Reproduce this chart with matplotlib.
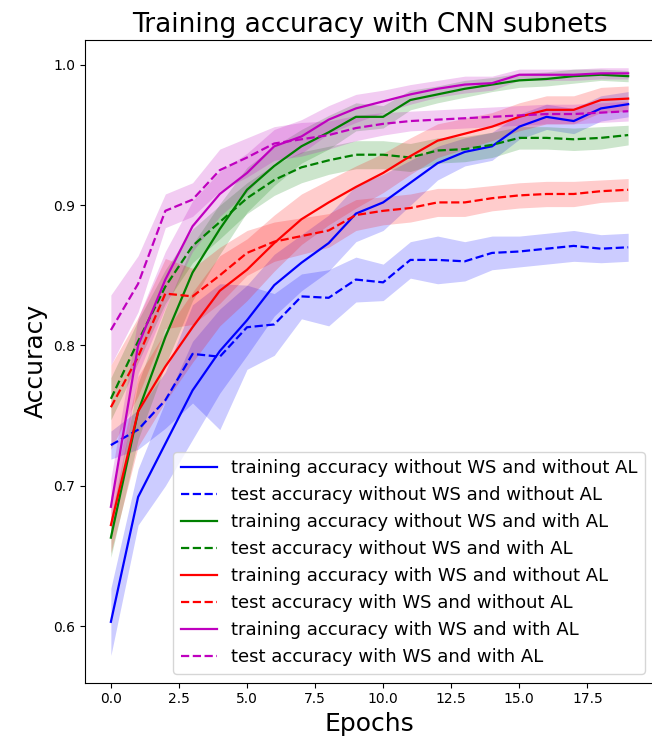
import matplotlib.pyplot as plt
import numpy as np

epochs = list(range(20))

# 训练/测试准确率 (均值)
train_nows_noal = [0.603, 0.692, 0.730, 0.768, 0.796, 0.818, 0.843, 0.859, 0.873, 0.894,
                   0.902, 0.916, 0.930, 0.938, 0.942, 0.956, 0.963, 0.960, 0.969, 0.972]
test_nows_noal = [0.729, 0.740, 0.761, 0.794, 0.792, 0.813, 0.815, 0.835, 0.834, 0.847,
                  0.845, 0.861, 0.861, 0.860, 0.866, 0.867, 0.869, 0.871, 0.869, 0.870]
train_nows_al = [0.663, 0.753, 0.806, 0.852, 0.883, 0.911, 0.928, 0.942, 0.952, 0.963,
                 0.963, 0.975, 0.979, 0.983, 0.986, 0.989, 0.990, 0.992, 0.993, 0.992]
test_nows_al = [0.762, 0.803, 0.842, 0.871, 0.888, 0.905, 0.918, 0.927, 0.932, 0.936,
                0.936, 0.934, 0.939, 0.940, 0.943, 0.948, 0.948, 0.947, 0.948, 0.950]
train_ws_noal = [0.672, 0.753, 0.785, 0.813, 0.839, 0.854, 0.873, 0.890, 0.902, 0.913,
                 0.923, 0.935, 0.946, 0.951, 0.956, 0.963, 0.968, 0.968, 0.975, 0.976]
test_ws_noal = [0.756, 0.792, 0.837, 0.835, 0.850, 0.866, 0.874, 0.878, 0.882, 0.893,
                0.896, 0.898, 0.902, 0.902, 0.905, 0.907, 0.908, 0.908, 0.910, 0.911]
train_ws_al = [0.685, 0.800, 0.847, 0.885, 0.908, 0.923, 0.942, 0.949, 0.961, 0.969,
               0.974, 0.979, 0.983, 0.986, 0.987, 0.993, 0.993, 0.993, 0.994, 0.994]
test_ws_al = [0.811, 0.844, 0.896, 0.904, 0.925, 0.934, 0.944, 0.947, 0.950, 0.955,
              0.958, 0.960, 0.961, 0.962, 0.963, 0.964, 0.965, 0.965, 0.966, 0.967]

# 标准差 (阴影带)
std_train_nows_noal = [0.024, 0.020, 0.030, 0.035, 0.030, 0.025, 0.022, 0.020, 0.020, 0.020,
                       0.020, 0.016, 0.012, 0.010, 0.010, 0.009, 0.009, 0.009, 0.009, 0.009]
std_test_nows_noal = [0.010, 0.014, 0.020, 0.035, 0.052, 0.030, 0.022, 0.016, 0.020, 0.016,
                      0.013, 0.013, 0.017, 0.014, 0.012, 0.011, 0.011, 0.011, 0.010, 0.010]
std_train_nows_al = [0.014, 0.020, 0.020, 0.020, 0.018, 0.016, 0.014, 0.012, 0.012, 0.010,
                     0.008, 0.007, 0.006, 0.006, 0.005, 0.005, 0.005, 0.005, 0.004, 0.004]
std_test_nows_al = [0.015, 0.015, 0.012, 0.012, 0.012, 0.011, 0.011, 0.011, 0.010, 0.010,
                    0.010, 0.010, 0.009, 0.009, 0.009, 0.008, 0.008, 0.008, 0.008, 0.007]
std_train_ws_noal = [0.020, 0.025, 0.025, 0.025, 0.025, 0.022, 0.020, 0.018, 0.016, 0.015,
                     0.014, 0.013, 0.012, 0.011, 0.010, 0.010, 0.010, 0.010, 0.009, 0.009]
std_test_ws_noal = [0.030, 0.028, 0.025, 0.020, 0.020, 0.016, 0.014, 0.013, 0.012, 0.011,
                    0.010, 0.010, 0.010, 0.010, 0.009, 0.009, 0.009, 0.009, 0.008, 0.008]
std_train_ws_al = [0.020, 0.020, 0.020, 0.018, 0.016, 0.014, 0.012, 0.012, 0.010, 0.010,
                   0.008, 0.007, 0.006, 0.006, 0.005, 0.004, 0.004, 0.004, 0.004, 0.004]
std_test_ws_al = [0.025, 0.020, 0.012, 0.012, 0.015, 0.014, 0.012, 0.012, 0.010, 0.009,
                  0.008, 0.007, 0.007, 0.007, 0.007, 0.007, 0.007, 0.007, 0.007, 0.007]

labels = [
    'training accuracy without WS and without AL',
    'test accuracy without WS and without AL',
    'training accuracy without WS and with AL',
    'test accuracy without WS and with AL',
    'training accuracy with WS and without AL',
    'test accuracy with WS and without AL',
    'training accuracy with WS and with AL',
    'test accuracy with WS and with AL',
]
means = [train_nows_noal, test_nows_noal, train_nows_al, test_nows_al,
         train_ws_noal, test_ws_noal, train_ws_al, test_ws_al]
stds = [std_train_nows_noal, std_test_nows_noal, std_train_nows_al, std_test_nows_al,
        std_train_ws_noal, std_test_ws_noal, std_train_ws_al, std_test_ws_al]
colors = ['b', 'b', 'g', 'g', 'r', 'r', 'm', 'm']
styles = ['-', '--', '-', '--', '-', '--', '-', '--']

fig = plt.figure(figsize=(6.52, 7.4), dpi=100)
# 轴的右边缘略超出画布 (与原图一样被裁掉)
ax = fig.add_axes([0.1304, 0.0774, 0.8727, 0.8686])

x = np.array(epochs)
for m, s, c, ls, lab in zip(means, stds, colors, styles, labels):
    m = np.array(m)
    s = np.array(s)
    ax.plot(x, m, color=c, linestyle=ls, linewidth=1.6, label=lab)
    ax.fill_between(x, m - s, m + s, color=c, alpha=0.2, linewidth=0)

ax.set_ylim(0.5596, 1.0178)
ax.set_yticks([0.6, 0.7, 0.8, 0.9, 1.0])
ax.tick_params(labelsize=10)

ax.set_title('Training accuracy with CNN subnets', fontsize=19)
ax.set_xlabel('Epochs', fontsize=18)
ax.set_ylabel('Accuracy', fontsize=18)
ax.legend(loc='lower right', fontsize=13)

fig.savefig('out.png', dpi=100)
